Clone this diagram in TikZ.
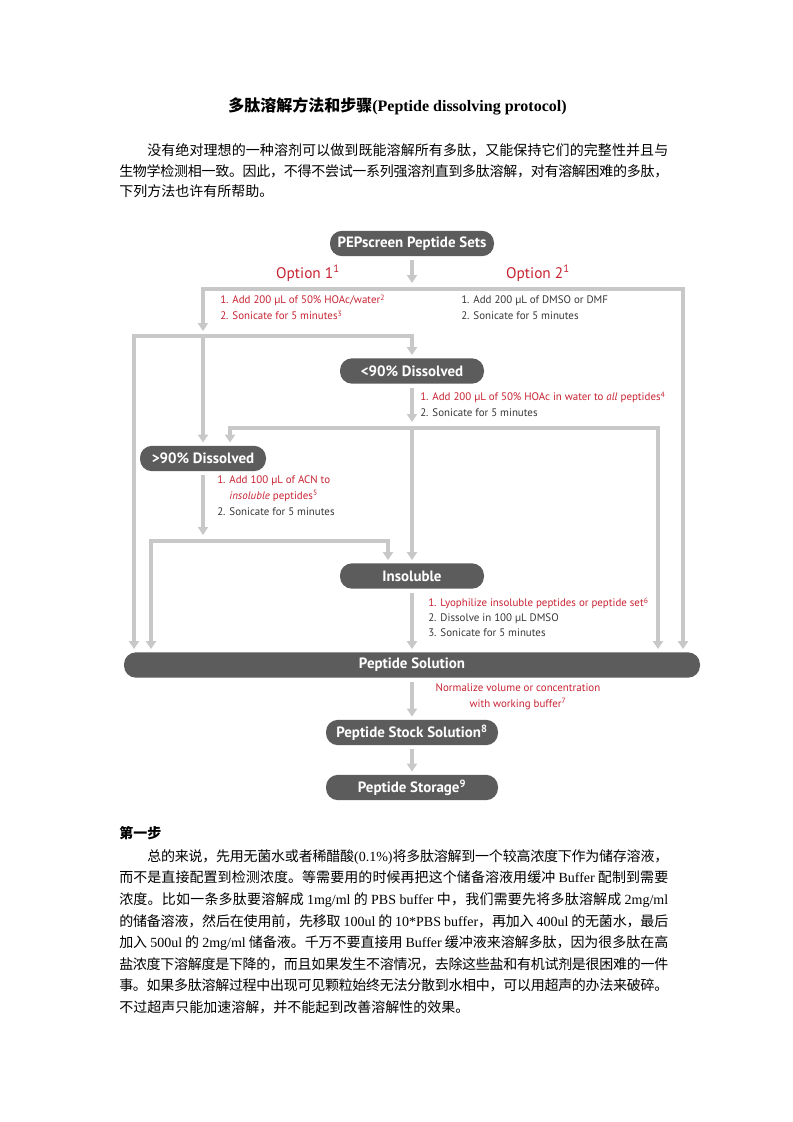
\documentclass[tikz,border=0pt]{standalone}
\usepackage{fontspec}
\usetikzlibrary{arrows.meta, positioning}
\setmainfont{Liberation Serif}
\newfontfamily\cjk{Noto Sans CJK SC}
\newfontfamily\flowfont{PT Sans}
\definecolor{boxgray}{RGB}{92,92,92}
\definecolor{linegray}{RGB}{200,200,200}
\definecolor{optred}{RGB}{200,35,50}
\definecolor{stepdark}{RGB}{55,55,55}
\newcommand{\en}[1]{{\rmfamily #1}}
% stretchable glue between Chinese characters, for justified lines
\XeTeXinterchartokenstate=1
\newXeTeXintercharclass\hanclass
\count255="3000
\loop
  \XeTeXcharclass\count255=\hanclass
  \advance\count255 by 1
\ifnum\count255<"A000\relax\repeat
\count255="FF00
\loop
  \XeTeXcharclass\count255=\hanclass
  \advance\count255 by 1
\ifnum\count255<"FFF0\relax\repeat
\XeTeXinterchartoks\hanclass\hanclass={\hskip0pt plus 2pt minus 0.5pt\relax}

\begin{document}
\begin{tikzpicture}[x=0.75pt, y=-0.75pt,
        stage/.style={fill=boxgray, text=white, rounded corners=9pt, minimum height=19pt,
            inner sep=0pt, font=\flowfont\bfseries\fontsize{11.2}{13}\selectfont},
        flow/.style={draw=linegray, line width=3pt},
        toarrow/.style={-{Triangle[width=7.5pt, length=6pt]}},
        botharrow/.style={{Triangle[width=7.5pt, length=6pt]}-{Triangle[width=7.5pt, length=6pt]}},
        option/.style={text=optred, font=\flowfont\fontsize{11.5}{13}\selectfont},
        steps/.style={anchor=north west, inner sep=0pt, align=left, text=stepdark,
            font=\flowfont\fontsize{8.2}{12}\selectfont},
        para/.style={anchor=base west, inner sep=0pt, font=\cjk\fontsize{10.5}{12}\selectfont}
    ]

    \fill[white] (0,0) rectangle (793,1122);
    \useasboundingbox (0,0) rectangle (793,1122);

    \node[anchor=base, font=\bfseries\fontsize{12}{14}\selectfont] (title) at (397.5,111)
        {{\cjk 多肽溶解方法和步骤}(Peptide dissolving protocol)};

    \node[para] (intro1) at (147,155) {\makebox[390.75pt][s]{没有绝对理想的一种溶剂可以做到既能溶解所有多肽，又能保持它们的完整性并且与}};
    \node[para] (intro2) at (119,176) {\makebox[411.75pt][s]{生物学检测相一致。因此，不得不尝试一系列强溶剂直到多肽溶解，对有溶解困难的多肽，}};
    \node[para] (intro3) at (119,196) {下列方法也许有所帮助。};

    % flow chart boxes
    \node[stage, minimum width=123pt] (sets) at (412,243.5) {PEPscreen Peptide Sets};
    \node[stage, minimum width=108pt] (lt90) at (412,371) {<90\% Dissolved};
    \node[stage, minimum width=94.5pt] (gt90) at (203,458.5) {>90\% Dissolved};
    \node[stage, minimum width=108pt] (insol) at (412,576) {Insoluble};
    \node[stage, minimum width=432pt] (sol) at (412,665) {Peptide Solution};
    \node[stage, minimum width=129pt] (stock) at (412,732.5) {Peptide Stock Solution\textsuperscript{8}};
    \node[stage, minimum width=129pt] (store) at (412,787.5) {Peptide Storage\textsuperscript{9}};

    \coordinate (top) at (412,289);
    \coordinate (o1) at (203,289);
    \coordinate (o2) at (683,289);
    \coordinate (m1) at (134,336);
    \coordinate (m2) at (412,336);
    \coordinate (d1) at (230,428);
    \coordinate (d2) at (658,428);
    \coordinate (i1) at (151,541);
    \coordinate (i2) at (388,541);

    \draw[flow, toarrow, shorten <=3pt, shorten >=4.5pt] (sets) -- (top);
    \draw[flow, botharrow, shorten <=3.75pt, shorten >=2.25pt] (o1 |- m1) -- (o1) -- (o2) -- (sol.north -| o2);
    \draw[flow, botharrow, shorten <=2.25pt, shorten >=2.25pt] (sol.north -| m1) -- (m1) -- (m2) -- (lt90.north);
    \draw[flow, toarrow, shorten >=2.25pt] (gt90.north |- m1) -- (gt90.north);

    \draw[flow, toarrow, shorten <=3pt, shorten >=4.5pt] (lt90) -- (lt90 |- d1);
    \draw[flow, botharrow, shorten <=2.25pt, shorten >=2.25pt] (gt90.north -| d1) -- (d1) -- (d2) -- (sol.north -| d2);
    \draw[flow, toarrow, shorten >=2.25pt] (insol |- d1) -- (insol.north);

    \draw[flow, toarrow, shorten <=3pt, shorten >=4.5pt] (gt90) -- (gt90 |- i1);
    \draw[flow, botharrow, shorten <=2.25pt, shorten >=2.25pt] (sol.north -| i1) -- (i1) -- (i2) -- (insol.north -| i2);

    \draw[flow, toarrow, shorten <=3pt, shorten >=2.25pt] (insol) -- (sol);
    \draw[flow, toarrow, shorten <=3pt, shorten >=2.25pt] (sol) -- (stock);
    \draw[flow, toarrow, shorten <=3pt, shorten >=2.25pt] (stock) -- (store);

    % labels along the way
    \node[option] (opt1) at (308,273) {Option 1\textsuperscript{1}};
    \node[option] (opt2) at (538,273) {Option 2\textsuperscript{1}};
    \node[steps, text=optred] (stepA) at (220,294.5)
        {1. Add 200 µL of 50\% HOAc/water\textsuperscript{2}\\2. Sonicate for 5 minutes\textsuperscript{3}};
    \node[steps] (stepB) at (461,295.5) {1. Add 200 µL of DMSO or DMF\\2. Sonicate for 5 minutes};
    \node[steps] (stepC) at (420,391.5)
        {\textcolor{optred}{1. Add 200 µL of 50\% HOAc in water to \textit{all} peptides\textsuperscript{4}}\\2. Sonicate for 5 minutes};
    \node[steps] (stepD) at (217,475.5)
        {\textcolor{optred}{1. Add 100 µL of ACN to}\\\textcolor{optred}{\phantom{1. }\textit{insoluble} peptides\textsuperscript{5}}\\2. Sonicate for 5 minutes};
    \node[steps, font=\flowfont\fontsize{8.2}{11.25}\selectfont] (stepE) at (428,597.5)
        {\textcolor{optred}{1. Lyophilize insoluble peptides or peptide set\textsuperscript{6}}\\2. Dissolve in 100 µL DMSO\\3. Sonicate for 5 minutes};
    \node[steps, anchor=center, align=center, text=optred] (norm) at (518,697)
        {Normalize volume or concentration\\with working buffer\textsuperscript{7}};

    \node[para, font=\cjk\bfseries\fontsize{10.5}{12}\selectfont] (first) at (119,838) {第一步};
    \node[para] (body1) at (147,861.3) {\makebox[390.75pt][s]{总的来说，先用无菌水或者稀醋酸\en{(0.1\%)}将多肽溶解到一个较高浓度下作为储存溶液，}};
    \node[para] (body2) at (119,882.9) {\makebox[411.75pt][s]{而不是直接配置到检测浓度。等需要用的时候再把这个储备溶液用缓冲 \en{Buffer} 配制到需要}};
    \node[para] (body3) at (119,904.5) {\makebox[411.75pt][s]{浓度。比如一条多肽要溶解成 \en{1mg/ml} 的 \en{PBS buffer} 中，我们需要先将多肽溶解成 \en{2mg/ml}}};
    \node[para] (body4) at (119,926.1) {\makebox[411.75pt][s]{的储备溶液，然后在使用前，先移取 \en{100ul} 的 \en{10*PBS buffer}，再加入 \en{400ul} 的无菌水，最后}};
    \node[para] (body5) at (119,947.7) {\makebox[411.75pt][s]{加入 \en{500ul} 的 \en{2mg/ml} 储备液。千万不要直接用 \en{Buffer} 缓冲液来溶解多肽，因为很多肽在高}};
    \node[para] (body6) at (119,969.3) {\makebox[411.75pt][s]{盐浓度下溶解度是下降的，而且如果发生不溶情况，去除这些盐和有机试剂是很困难的一件}};
    \node[para] (body7) at (119,990.9) {\makebox[411.75pt][s]{事。如果多肽溶解过程中出现可见颗粒始终无法分散到水相中，可以用超声的办法来破碎。}};
    \node[para] (body8) at (119,1012.5) {不过超声只能加速溶解，并不能起到改善溶解性的效果。};

\end{tikzpicture}
\end{document}
